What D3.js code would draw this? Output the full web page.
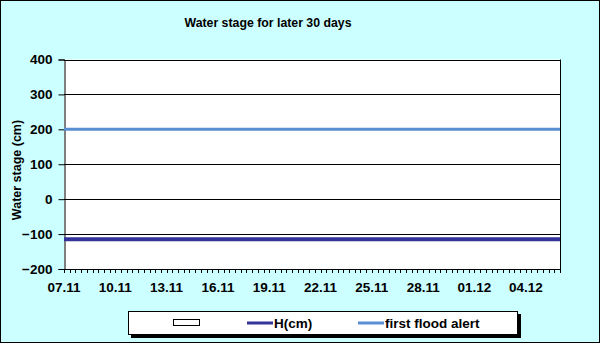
<!DOCTYPE html>
<html><head><meta charset="utf-8">
<script src="https://cdn.jsdelivr.net/npm/d3@7"></script>
<style>body{margin:0;background:#fff}svg{display:block;font-family:Arial,"Liberation Sans",sans-serif}</style>
</head><body><svg id="c" width="600" height="343"></svg>
<script>
const title = "Water stage for later 30 days";
const yLabel = "Water stage (cm)";
const startDate = "2023-11-07";
const endDate = "2023-12-06";
const yTicks = [-200, -100, 0, 100, 200, 300, 400];
const hValue = -115;          // H(cm), flat over the period
const floodAlert = 200;       // first flood alert level
const legendLabels = ["", "H(cm)", "first flood alert"];

const svg = d3.select("#c");
const W = 600, H = 343;
const m = {l: 64, r: 40, t: 60, b: 74};
const x0 = new Date(startDate + "T00:00:00Z"), x1 = new Date(endDate + "T00:00:00Z");
const x = d3.scaleUtc().domain([x0, x1]).range([m.l, W - m.r]);
const y = d3.scaleLinear().domain([-200, 400]).range([269, 59.5]);

svg.append("rect").attr("x",0.5).attr("y",0.5).attr("width",W-1).attr("height",H-1)
  .attr("fill","#CCFFFF").attr("stroke","#000");
svg.append("rect").attr("x",m.l).attr("y",y(400)).attr("width",x(x1)-m.l).attr("height",y(-200)-y(400))
  .attr("fill","#fff");

svg.append("text").attr("x",268).attr("y",27).attr("text-anchor","middle")
  .attr("font-size",12.3).attr("font-weight","bold").text(title);

// grid
svg.append("g").selectAll("line").data(yTicks.filter(v=>v>-200)).join("line")
  .attr("x1",m.l).attr("x2",x(x1)).attr("y1",d=>Math.round(y(d))+0.5).attr("y2",d=>Math.round(y(d))+0.5)
  .attr("stroke","#000").attr("stroke-width",1);
// right border
svg.append("line").attr("x1",Math.round(x(x1))+0.5).attr("x2",Math.round(x(x1))+0.5)
  .attr("y1",y(400)).attr("y2",y(-200)).attr("stroke","#000");

// y axis
const ya = svg.append("g").attr("transform",`translate(${m.l+0.5},0)`)
  .call(d3.axisLeft(y).tickValues(yTicks).tickSize(6).tickPadding(6));
ya.select(".domain").attr("stroke","#000");
ya.selectAll("text").attr("font-size",13.5).attr("font-weight","bold").attr("fill","#000").attr("font-family","Arial,'Liberation Sans',sans-serif");

// x axis minor ticks (every 8 hours)
const minor = d3.utcHour.every(8).range(x0, new Date(+x1 + 1));
svg.append("g").selectAll("line").data(minor).join("line")
  .attr("x1",d=>Math.round(x(d))+0.5).attr("x2",d=>Math.round(x(d))+0.5)
  .attr("y1",y(-200)).attr("y2",y(-200)+4).attr("stroke","#000");
svg.append("line").attr("x1",m.l).attr("x2",x(x1)+0.5).attr("y1",Math.round(y(-200))+0.5).attr("y2",Math.round(y(-200))+0.5).attr("stroke","#000");
const labelDates = d3.utcDay.range(x0, x1).filter(d => d3.utcDay.count(x0,d)%3===0);
svg.append("g").selectAll("text").data(labelDates).join("text")
  .attr("x",d=>x(d)).attr("y",291.5).attr("text-anchor","middle")
  .attr("font-size",13.5).attr("font-weight","bold").text(d3.utcFormat("%d.%m"));

// y label
svg.append("text").attr("transform","translate(21,170) rotate(-90)").attr("text-anchor","middle")
  .attr("font-size",12.5).attr("font-weight","bold").text(yLabel);

// series
const days = d3.utcDay.range(x0, new Date(+x1+1));
const line = d3.line().x(d=>x(d.t)).y(d=>y(d.v));
svg.append("path").datum(days.map(t=>({t,v:floodAlert}))).attr("d",line)
  .attr("fill","none").attr("stroke","#5B8FD4").attr("stroke-width",3);
svg.append("path").datum(days.map(t=>({t,v:hValue}))).attr("d",line)
  .attr("fill","none").attr("stroke","#333399").attr("stroke-width",4);

// legend
svg.append("rect").attr("x",131).attr("y",314).attr("width",390).attr("height",24).attr("fill","#000");
svg.append("rect").attr("x",128.5).attr("y",311.5).attr("width",389).attr("height",23).attr("fill","#fff").attr("stroke","#000");
svg.append("rect").attr("x",173.5).attr("y",319.5).attr("width",26).attr("height",6).attr("fill","#fff").attr("stroke","#000");
svg.append("line").attr("x1",247).attr("x2",273).attr("y1",323).attr("y2",323).attr("stroke","#333399").attr("stroke-width",3);
svg.append("text").attr("x",274).attr("y",328).attr("font-size",13.5).attr("font-weight","bold").text(legendLabels[1]);
svg.append("line").attr("x1",358).attr("x2",384).attr("y1",323).attr("y2",323).attr("stroke","#5B8FD4").attr("stroke-width",3);
svg.append("text").attr("x",385).attr("y",328).attr("font-size",13.5).attr("font-weight","bold").text(legendLabels[2]);
</script></body></html>
